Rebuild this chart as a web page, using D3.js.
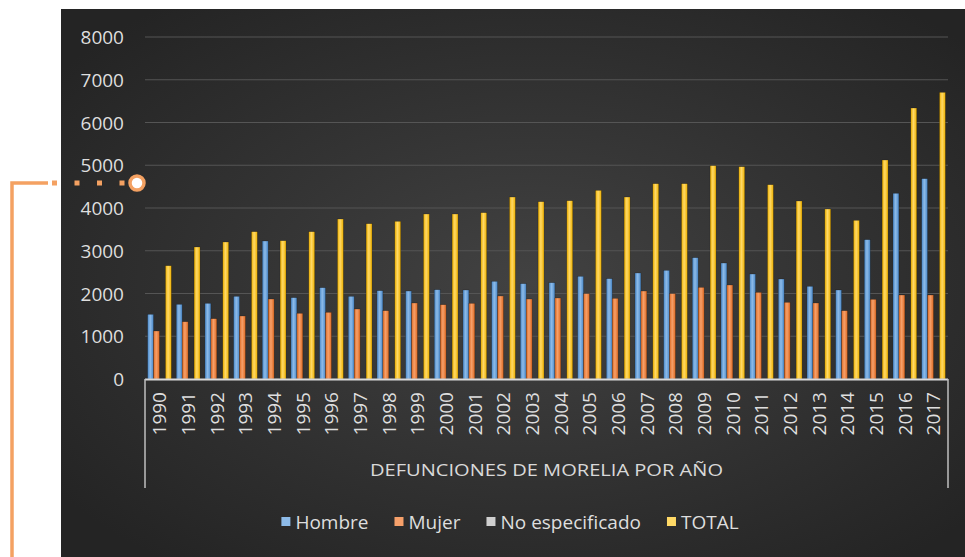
<!DOCTYPE html>
<html>
<head>
<meta charset="utf-8">
<script src="https://cdn.jsdelivr.net/npm/d3@7"></script>
<style>
  html,body{margin:0;padding:0;background:#ffffff;}
  svg{display:block;}
  text{font-family:"Open Sans","Liberation Sans",sans-serif;}
</style>
</head>
<body>
<svg id="chart" width="965" height="557"></svg>
<script>
const years = ["1990","1991","1992","1993","1994","1995","1996","1997","1998","1999","2000","2001","2002","2003","2004","2005","2006","2007","2008","2009","2010","2011","2012","2013","2014","2015","2016","2017"];
const hombre = [1513,1747,1770,1934,3228,1903,2136,1934,2066,2058,2089,2082,2285,2230,2253,2402,2347,2480,2542,2838,2713,2456,2339,2168,2082,3259,4344,4686];
const mujer = [1123,1340,1411,1474,1871,1537,1560,1637,1598,1778,1738,1770,1942,1871,1895,1996,1887,2058,1996,2144,2199,2027,1794,1778,1598,1864,1965,1965];
const noEspecificado = [3,2,4,3,5,4,3,2,4,3,2,3,4,3,2,3,4,3,2,3,4,3,2,3,4,3,2,3];
const total = [2650,3088,3205,3446,3235,3446,3743,3633,3689,3860,3860,3891,4257,4148,4171,4413,4257,4569,4569,4990,4966,4545,4164,3977,3712,5123,6339,6706];
const yTicks = [0,1000,2000,3000,4000,5000,6000,7000,8000];
const seriesNames = ["Hombre","Mujer","No especificado","TOTAL"];
const seriesColors = [["#4a88c8","#8dbbe9"],["#de6a22","#f6a06a"],["#8a8a8a","#cfcfcf"],["#eeb000","#ffd966"]];
const groupLabel = "DEFUNCIONES DE MORELIA POR AÑO";

const series = [hombre, mujer, noEspecificado, total];
const svg = d3.select("#chart");
const defs = svg.append("defs");

const bg = defs.append("radialGradient").attr("id","bg").attr("cx","52%").attr("cy","50%").attr("r","65%");
bg.append("stop").attr("offset","0%").attr("stop-color","#424242");
bg.append("stop").attr("offset","100%").attr("stop-color","#242424");
seriesColors.forEach((c,i)=>{
  const g = defs.append("linearGradient").attr("id","bar"+i).attr("x1","0").attr("x2","1").attr("y1","0").attr("y2","0");
  g.append("stop").attr("offset","0%").attr("stop-color",c[0]);
  g.append("stop").attr("offset","45%").attr("stop-color",c[1]);
  g.append("stop").attr("offset","100%").attr("stop-color",c[0]);
});

svg.append("rect").attr("x",61).attr("y",9).attr("width",904).attr("height",548).attr("fill","url(#bg)");

const y = d3.scaleLinear().domain([0,8000]).range([379,37]);
const x = d3.scaleBand().domain(years).range([145,948]).paddingInner(0.17).paddingOuter(0.09);
const xi = d3.scaleBand().domain(d3.range(4)).range([0,x.bandwidth()]).padding(0);

svg.append("g").selectAll("line").data(yTicks.filter(d=>d>0)).join("line")
  .attr("x1",145).attr("x2",948).attr("y1",d=>y(d)).attr("y2",d=>y(d))
  .attr("stroke","#555555").attr("stroke-width",1.2);

const yAxis = d3.axisLeft(y).tickValues(yTicks).tickSize(0).tickPadding(0).tickFormat(d3.format("d"));
const ya = svg.append("g").attr("transform","translate(124,0)").call(yAxis);
ya.select(".domain").remove();
ya.selectAll("text").attr("fill","#dedede").attr("font-size","19px").attr("dy","0.35em");

const groups = svg.append("g").selectAll("g").data(years).join("g")
  .attr("transform",d=>`translate(${x(d)},0)`);
groups.selectAll("rect").data((d,i)=>series.map((s,k)=>({k, v:s[i]}))).join("rect")
  .attr("x",d=>xi(d.k)).attr("width",xi.bandwidth())
  .attr("y",d=>y(d.v)).attr("height",d=>y(0)-y(d.v))
  .attr("fill",d=>`url(#bar${d.k})`)
  .attr("stroke","rgba(0,0,0,0.35)").attr("stroke-width",0.6);

svg.append("line").attr("x1",145).attr("x2",948).attr("y1",379.5).attr("y2",379.5)
  .attr("stroke","#d9d9d9").attr("stroke-width",2);

const xAxis = d3.axisBottom(x).tickSize(0).tickPadding(0);
const xa = svg.append("g").attr("transform","translate(0,392)").call(xAxis);
xa.select(".domain").remove();
xa.selectAll("text").attr("fill","#dedede").attr("font-size","19px")
  .attr("transform","rotate(-90)").attr("text-anchor","end").attr("x",0).attr("y",0).attr("dy","0.36em");

[145,948].forEach(px=>{
  svg.append("line").attr("x1",px).attr("x2",px).attr("y1",379).attr("y2",488)
    .attr("stroke","#bfbfbf").attr("stroke-width",1.5);
});
svg.append("text").attr("x",546.5).attr("y",470).attr("dy","0.35em").attr("text-anchor","middle")
  .attr("fill","#d9d9d9").attr("font-size","17px").attr("textLength",353).attr("lengthAdjust","spacingAndGlyphs")
  .text(groupLabel);

const legend = svg.append("g");
let cx = 0;
seriesNames.forEach((n,i)=>{
  const g = legend.append("g");
  g.append("rect").attr("x",0).attr("y",-5).attr("width",9).attr("height",9).attr("fill",seriesColors[i][1]);
  const t = g.append("text").attr("x",14).attr("y",0).attr("dy","0.35em").attr("fill","#dedede").attr("font-size","19px").text(n);
  const w = 14 + t.node().getComputedTextLength();
  g.attr("transform",`translate(${cx},0)`);
  cx += w + 26;
});
const totalW = cx - 26;
legend.attr("transform",`translate(${510 - totalW/2},522)`);

const oc = "#f4a162";
svg.append("polyline").attr("points","12,557 12,183 48,183").attr("fill","none").attr("stroke",oc).attr("stroke-width",3.5);
[54.5,77,99.5,122].forEach(px=>{
  svg.append("rect").attr("x",px-2.5).attr("y",180.5).attr("width",5).attr("height",5).attr("fill",oc);
});
svg.append("circle").attr("cx",137).attr("cy",183).attr("r",7).attr("fill","#ffffff").attr("stroke",oc).attr("stroke-width",3.5);
</script>
</body>
</html>
